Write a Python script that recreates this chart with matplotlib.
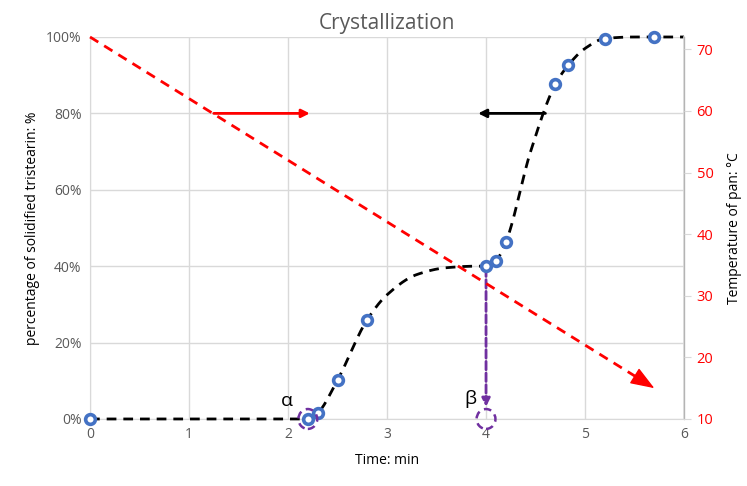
import matplotlib
matplotlib.use("Agg")
import matplotlib.pyplot as plt
from matplotlib.patches import Ellipse
import numpy as np

# measured points (time min, solidified %)
time_pts = [0, 2.2, 2.3, 2.5, 2.8, 4.0, 4.1, 4.2, 4.7, 4.83, 5.2, 5.7]
solid_pts = [0, 0, 1.6, 10.2, 26, 40, 41.4, 46.3, 87.6, 92.6, 99.6, 100]

# hand-drawn trend curve through the points (with the plateau)
curve_t = [0, 2.2, 2.3, 2.5, 2.8, 3.0, 3.3, 3.6, 3.9, 4.0, 4.1, 4.2, 4.45, 4.7, 4.83, 5.0, 5.2, 5.5, 6.0]
curve_s = [0, 0, 1.6, 10.2, 26, 32.5, 37.8, 39.6, 40, 40, 41.4, 46.3, 70, 87.6, 92.6, 97, 99.6, 100, 100]

# pan temperature line (start / end of red arrow)
temp_t = [0, 5.7]
temp_c = [72, 15]


def pchip(x, y, xs):
    # monotone cubic, just for a smooth looking curve
    x = np.asarray(x, float)
    y = np.asarray(y, float)
    h = np.diff(x)
    d = np.diff(y) / h
    m = np.zeros_like(y)
    for k in range(1, len(x) - 1):
        if d[k - 1] * d[k] > 0:
            w1 = 2 * h[k] + h[k - 1]
            w2 = h[k] + 2 * h[k - 1]
            m[k] = (w1 + w2) / (w1 / d[k - 1] + w2 / d[k])
    m[0] = d[0]
    m[-1] = d[-1]
    out = np.empty_like(xs)
    for i, xv in enumerate(xs):
        k = min(max(np.searchsorted(x, xv) - 1, 0), len(x) - 2)
        t = (xv - x[k]) / h[k]
        h00 = 2 * t**3 - 3 * t**2 + 1
        h10 = t**3 - 2 * t**2 + t
        h01 = -2 * t**3 + 3 * t**2
        h11 = t**3 - t**2
        out[i] = h00 * y[k] + h10 * h[k] * m[k] + h01 * y[k + 1] + h11 * h[k] * m[k + 1]
    return out


plt.rcParams['font.family'] = ['Open Sans', 'DejaVu Sans']
grey = '#595959'
grid_c = '#d9d9d9'

fig = plt.figure(figsize=(7.47, 4.86), dpi=100)
ax = fig.add_axes([0.1205, 0.1379, 0.7952, 0.786])
ax2 = ax.twinx()

ax.set_xlim(0, 6)
ax.set_ylim(0, 100)
ax2.set_ylim(10, 72)

ax.set_xticks(range(0, 7))
ax.set_yticks(range(0, 101, 20))
ax.set_yticklabels([f"{v}%" for v in range(0, 101, 20)])
ax2.set_yticks(range(10, 71, 10))

ax.grid(True, color=grid_c, lw=1)
ax.set_axisbelow(True)
ax.spines['top'].set_visible(False)
ax2.spines['top'].set_visible(False)
for s in ['left', 'bottom']:
    ax.spines[s].set_color(grid_c)
ax2.spines['left'].set_visible(False)
ax2.spines['bottom'].set_visible(False)
ax2.spines['right'].set_color(grid_c)
ax2.spines['right'].set_linewidth(1.2)

ax.tick_params(axis='both', length=0, colors=grey, labelsize=10, pad=6)
ax2.tick_params(axis='y', length=5, color=grid_c, labelcolor='red', labelsize=10.5, pad=4)

ax.set_xlabel('Time: min', fontsize=10, labelpad=8)
ax.set_ylabel('percentage of solidified tristearin: %', fontsize=10, labelpad=4)
ax2.set_ylabel('Temperature of pan: °C', fontsize=10, labelpad=10)
ax.set_title('Crystallization', fontsize=15, color=grey, pad=6)

# trend curve + points
xs = np.linspace(0, 6, 600)
ax.plot(xs, pchip(curve_t, curve_s, xs), ls=(0, (3.5, 2.5)), color='black', lw=2,
        zorder=3, clip_on=False)
ax.plot(time_pts, solid_pts, 'o', ms=7, mfc='white', mec='#4472c4', mew=2.6, zorder=5, clip_on=False)

# red temperature line on right axis, dashed body + solid head
ax2.plot(temp_t, temp_c, color='red', lw=2, ls=(0, (3.5, 2.5)), clip_on=False)
frac = 0.96
head_from = (temp_t[0] + frac * (temp_t[1] - temp_t[0]), temp_c[0] + frac * (temp_c[1] - temp_c[0]))
ax2.annotate('', xy=(temp_t[1], temp_c[1]), xytext=head_from,
             arrowprops=dict(arrowstyle='-|>,head_length=0.75,head_width=0.28', color='red', lw=1,
                             mutation_scale=20, shrinkA=0, shrinkB=0))

# horizontal arrows pointing to the matching axis
ax.annotate('', xy=(2.22, 80), xytext=(1.25, 80),
            arrowprops=dict(arrowstyle='-|>', color='red', lw=2, mutation_scale=12, shrinkA=0, shrinkB=0))
ax.annotate('', xy=(3.92, 80), xytext=(4.6, 80),
            arrowprops=dict(arrowstyle='-|>', color='black', lw=2, mutation_scale=12, shrinkA=0, shrinkB=0))

# beta vertical arrow
purple = '#7030a0'
ax.annotate('', xy=(4.0, 3.2), xytext=(4.0, 39.5),
            arrowprops=dict(arrowstyle='-|>', color=purple, lw=2, ls=(0, (3, 1.2)),
                            mutation_scale=12, shrinkA=0, shrinkB=0))

# dashed circles for alpha / beta
for cx in [2.2, 4.0]:
    ax.add_patch(Ellipse((cx, 0), 0.19, 5.2, fill=False, ec=purple, lw=1.8,
                         ls=(0, (3, 2)), zorder=6, clip_on=False))

ax.text(1.99, 4.7, 'α', fontsize=14, ha='center', va='center', color='black')
ax.text(3.84, 5.2, 'β', fontsize=14, ha='center', va='center', color='black')

fig.savefig('out.png', dpi=100)
